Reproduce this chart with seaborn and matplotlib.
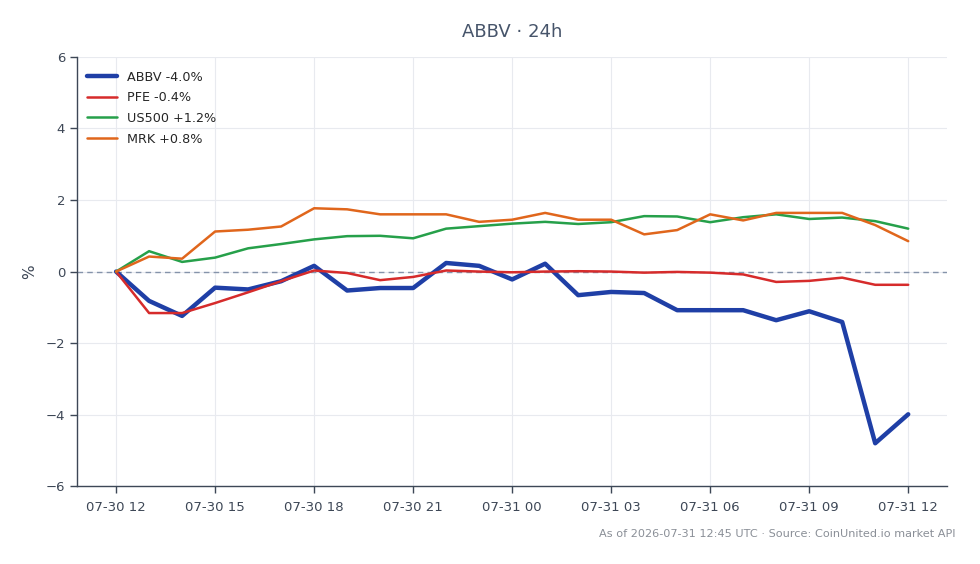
import pandas as pd
import matplotlib
matplotlib.use("Agg")
import matplotlib.pyplot as plt
import matplotlib.dates as mdates
import seaborn as sns

# hourly % change over the last 24h
times = pd.date_range("2026-07-30 12:00", "2026-07-31 12:00", freq="h")

abbv = [0.0, -0.82, -1.24, -0.45, -0.50, -0.27, 0.16, -0.53, -0.46, -0.46, 0.24, 0.16,
        -0.22, 0.22, -0.66, -0.57, -0.60, -1.08, -1.08, -1.08, -1.36, -1.11, -1.41, -4.80, -3.99]
pfe = [0.0, -1.16, -1.16, -0.88, -0.58, -0.27, 0.03, -0.04, -0.24, -0.15, 0.03, 0.0,
       -0.02, 0.0, 0.01, 0.0, -0.03, -0.01, -0.03, -0.08, -0.29, -0.26, -0.17, -0.37, -0.37]
us500 = [0.0, 0.57, 0.27, 0.39, 0.65, 0.77, 0.90, 0.99, 1.00, 0.93, 1.20, 1.27,
         1.34, 1.39, 1.33, 1.38, 1.55, 1.54, 1.38, 1.52, 1.60, 1.47, 1.51, 1.41, 1.20]
mrk = [0.0, 0.42, 0.36, 1.12, 1.17, 1.26, 1.77, 1.74, 1.60, 1.60, 1.60, 1.39,
       1.45, 1.64, 1.45, 1.45, 1.04, 1.16, 1.60, 1.43, 1.64, 1.64, 1.64, 1.30, 0.85]

labels = ["ABBV -4.0%", "PFE -0.4%", "US500 +1.2%", "MRK +0.8%"]
colors = ["#1f3fa6", "#d62b2b", "#26a04a", "#e0661c"]
widths = [3.2, 1.8, 1.8, 1.8]

df = pd.DataFrame({"time": times, labels[0]: abbv, labels[1]: pfe,
                   labels[2]: us500, labels[3]: mrk})
long_df = df.melt(id_vars="time", var_name="series", value_name="pct")

sns.set_style("white")
plt.rcParams["font.family"] = ["DejaVu Sans"]

fig = plt.figure(figsize=(9.8, 5.64), dpi=100)
ax = fig.add_axes([0.0786, 0.138, 0.888, 0.761])

for lab, col, lw in zip(labels, colors, widths):
    sub = long_df[long_df["series"] == lab]
    sns.lineplot(data=sub, x="time", y="pct", color=col, linewidth=lw, label=lab, ax=ax)

# zero reference line
ax.axhline(0, color="#8593aa", linestyle=(0, (4, 3)), linewidth=1.0, zorder=1.5)

ax.set_ylim(-6, 6)
ax.set_yticks([-6, -4, -2, 0, 2, 4, 6])
ax.set_yticklabels(["\u22126", "\u22124", "\u22122", "0", "2", "4", "6"])
pad = pd.Timedelta(minutes=71)
ax.set_xlim(times[0] - pad, times[-1] + pad)
ax.xaxis.set_major_locator(mdates.HourLocator(byhour=[0, 3, 6, 9, 12, 15, 18, 21]))
ax.xaxis.set_major_formatter(mdates.DateFormatter("%m-%d %H"))

ax.grid(True, color="#e8eaef", linewidth=0.8, zorder=0)
ax.set_axisbelow(True)
for s in ["top", "right"]:
    ax.spines[s].set_visible(False)
for s in ["left", "bottom"]:
    ax.spines[s].set_color("#3d4756")
    ax.spines[s].set_linewidth(1.0)
ax.tick_params(axis="both", colors="#3d4756", labelsize=9.5, length=5, width=1, direction="out",
               bottom=True, left=True)
ax.tick_params(axis="x", pad=6)

ax.set_xlabel("")
ax.set_ylabel("%", color="#3d4756", fontsize=11, labelpad=6)

leg = ax.legend(loc="upper left", bbox_to_anchor=(0.0, 0.992), frameon=False, fontsize=9.2,
                handlelength=2.3, borderaxespad=0.4, labelspacing=0.6)

fig.text(0.523, 0.944, "ABBV \u00b7 24h", ha="center", va="center", fontsize=13, color="#46546a")
fig.text(0.975, 0.053, "As of 2026-07-31 12:45 UTC \u00b7 Source: CoinUnited.io market API",
         ha="right", va="center", fontsize=8.1, color="#8a8f97")

fig.savefig("out.png", dpi=100)
plt.close(fig)
